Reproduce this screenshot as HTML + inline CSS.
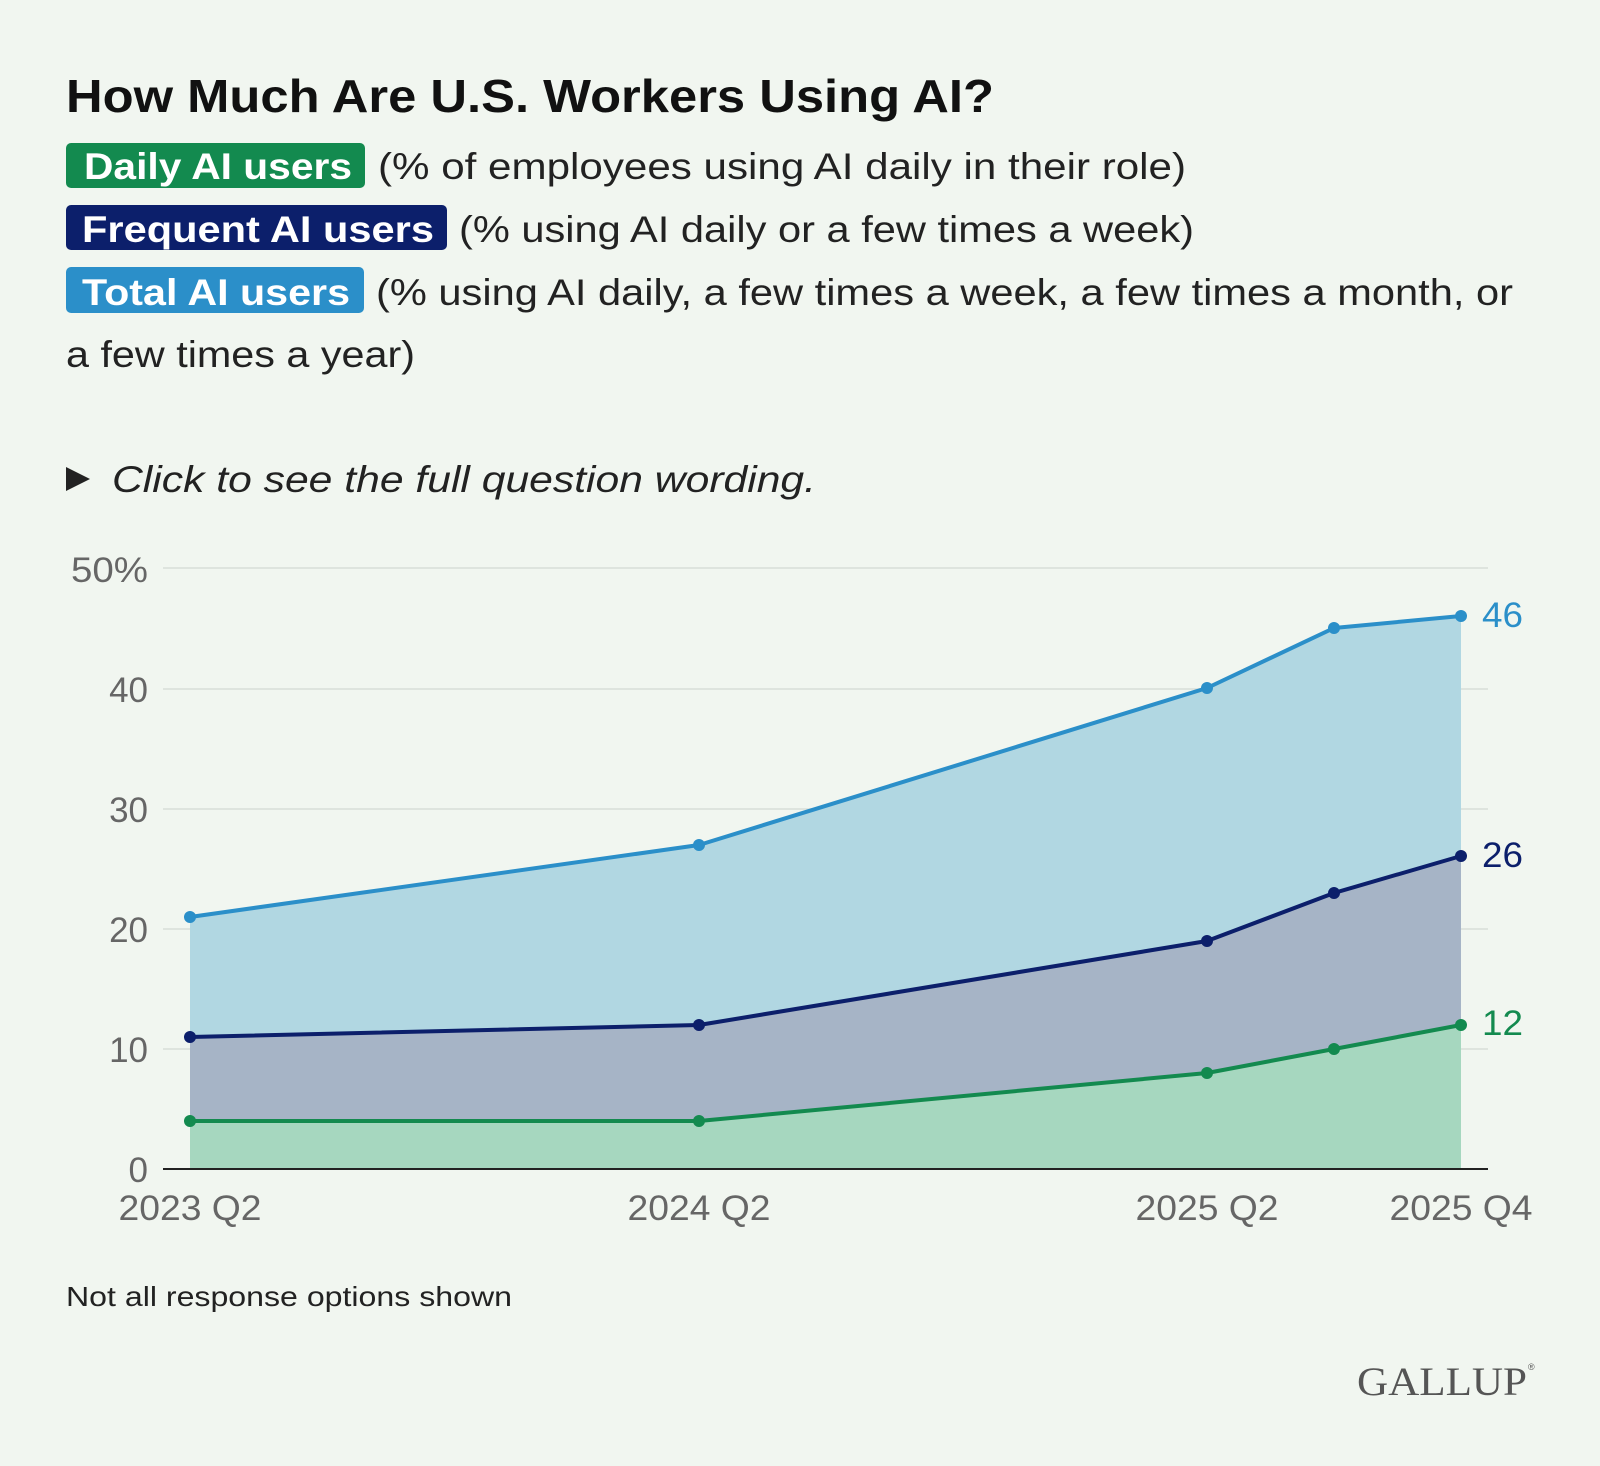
<!DOCTYPE html>
<html><head><meta charset="utf-8"><style>
html,body{margin:0;padding:0;background:#f1f6f0;}
svg{display:block;}
text{font-family:"Liberation Sans",sans-serif;}
</style></head><body>
<svg width="1600" height="1466" viewBox="0 0 1600 1466" xmlns="http://www.w3.org/2000/svg">
<rect width="1600" height="1466" fill="#f1f6f0"/>
<text x="66" y="112" font-size="46" font-weight="bold" fill="#111" textLength="928" lengthAdjust="spacingAndGlyphs">How Much Are U.S. Workers Using AI?</text>
<rect x="66" y="143" width="299" height="45" rx="5" fill="#138a4f"/>
<text x="84" y="179" font-size="37" font-weight="bold" fill="#fff" textLength="268" lengthAdjust="spacingAndGlyphs">Daily AI users</text>
<text x="378" y="179" font-size="37" fill="#222" textLength="808" lengthAdjust="spacingAndGlyphs">(% of employees using AI daily in their role)</text>
<rect x="66" y="205" width="381" height="45" rx="5" fill="#0c1f6b"/>
<text x="82" y="242" font-size="37" font-weight="bold" fill="#fff" textLength="352" lengthAdjust="spacingAndGlyphs">Frequent AI users</text>
<text x="459" y="242" font-size="37" fill="#222" textLength="735" lengthAdjust="spacingAndGlyphs">(% using AI daily or a few times a week)</text>
<rect x="66" y="267" width="298" height="46" rx="5" fill="#2b8fc9"/>
<text x="82" y="305" font-size="37" font-weight="bold" fill="#fff" textLength="268" lengthAdjust="spacingAndGlyphs">Total AI users</text>
<text x="376" y="305" font-size="37" fill="#222" textLength="1137" lengthAdjust="spacingAndGlyphs">(% using AI daily, a few times a week, a few times a month, or</text>
<text x="66" y="367" font-size="37" fill="#222" textLength="349" lengthAdjust="spacingAndGlyphs">a few times a year)</text>
<polygon points="66,467 90,479 66,491" fill="#222"/>
<text x="112" y="492" font-size="37" font-style="italic" fill="#222" textLength="704" lengthAdjust="spacingAndGlyphs">Click to see the full question wording.</text>
<g stroke="#d8ddd8" stroke-width="1.5">
<line x1="163" y1="568" x2="1488" y2="568"/>
<line x1="163" y1="689" x2="1488" y2="689"/>
<line x1="163" y1="809" x2="1488" y2="809"/>
<line x1="163" y1="929" x2="1488" y2="929"/>
<line x1="163" y1="1049" x2="1488" y2="1049"/>
</g>
<polygon points="190,917 699,845 1207,688 1334,628 1461,616 1461,1169 190,1169" fill="#b1d7e2"/>
<polygon points="190,1037 699,1025 1207,941 1334,893 1461,856 1461,1169 190,1169" fill="#a6b4c6"/>
<polygon points="190,1121 699,1121 1207,1073 1334,1049 1461,1025 1461,1169 190,1169" fill="#a6d7bf"/>
<g fill="none" stroke-width="4" stroke-linejoin="round">
<polyline points="190,917 699,845 1207,688 1334,628 1461,616" stroke="#2b8fc9"/>
<polyline points="190,1037 699,1025 1207,941 1334,893 1461,856" stroke="#0c1f6b"/>
<polyline points="190,1121 699,1121 1207,1073 1334,1049 1461,1025" stroke="#138a4f"/>
</g>
<g fill="#2b8fc9"><circle cx="190" cy="917" r="6"/><circle cx="699" cy="845" r="6"/><circle cx="1207" cy="688" r="6"/><circle cx="1334" cy="628" r="6"/><circle cx="1461" cy="616" r="6"/></g>
<g fill="#0c1f6b"><circle cx="190" cy="1037" r="6"/><circle cx="699" cy="1025" r="6"/><circle cx="1207" cy="941" r="6"/><circle cx="1334" cy="893" r="6"/><circle cx="1461" cy="856" r="6"/></g>
<g fill="#138a4f"><circle cx="190" cy="1121" r="6"/><circle cx="699" cy="1121" r="6"/><circle cx="1207" cy="1073" r="6"/><circle cx="1334" cy="1049" r="6"/><circle cx="1461" cy="1025" r="6"/></g>
<line x1="163" y1="1169" x2="1488" y2="1169" stroke="#222" stroke-width="2"/>
<g font-size="35" fill="#666" text-anchor="end">
<text x="148" y="582" textLength="77" lengthAdjust="spacingAndGlyphs">50%</text><text x="148" y="702">40</text><text x="148" y="822">30</text><text x="148" y="942">20</text><text x="148" y="1062">10</text><text x="148" y="1182">0</text>
</g>
<g font-size="35" fill="#666" text-anchor="middle">
<text x="190" y="1220" textLength="143" lengthAdjust="spacingAndGlyphs">2023 Q2</text><text x="699" y="1220" textLength="143" lengthAdjust="spacingAndGlyphs">2024 Q2</text><text x="1207" y="1220" textLength="143" lengthAdjust="spacingAndGlyphs">2025 Q2</text><text x="1461" y="1220" textLength="143" lengthAdjust="spacingAndGlyphs">2025 Q4</text>
</g>
<text x="1482" y="627" font-size="35" fill="#2b8fc9" textLength="41" lengthAdjust="spacingAndGlyphs">46</text>
<text x="1482" y="867" font-size="35" fill="#0c1f6b" textLength="41" lengthAdjust="spacingAndGlyphs">26</text>
<text x="1482" y="1035" font-size="35" fill="#138a4f" textLength="41" lengthAdjust="spacingAndGlyphs">12</text>
<text x="66" y="1306" font-size="28" fill="#222" textLength="446" lengthAdjust="spacingAndGlyphs">Not all response options shown</text>
<text x="1357" y="1395" font-size="40" fill="#555" textLength="170" lengthAdjust="spacingAndGlyphs" style="font-family:'Liberation Serif',serif">GALLUP</text>
<text x="1528" y="1370" font-size="9" fill="#555">®</text>
</svg>
</body></html>
